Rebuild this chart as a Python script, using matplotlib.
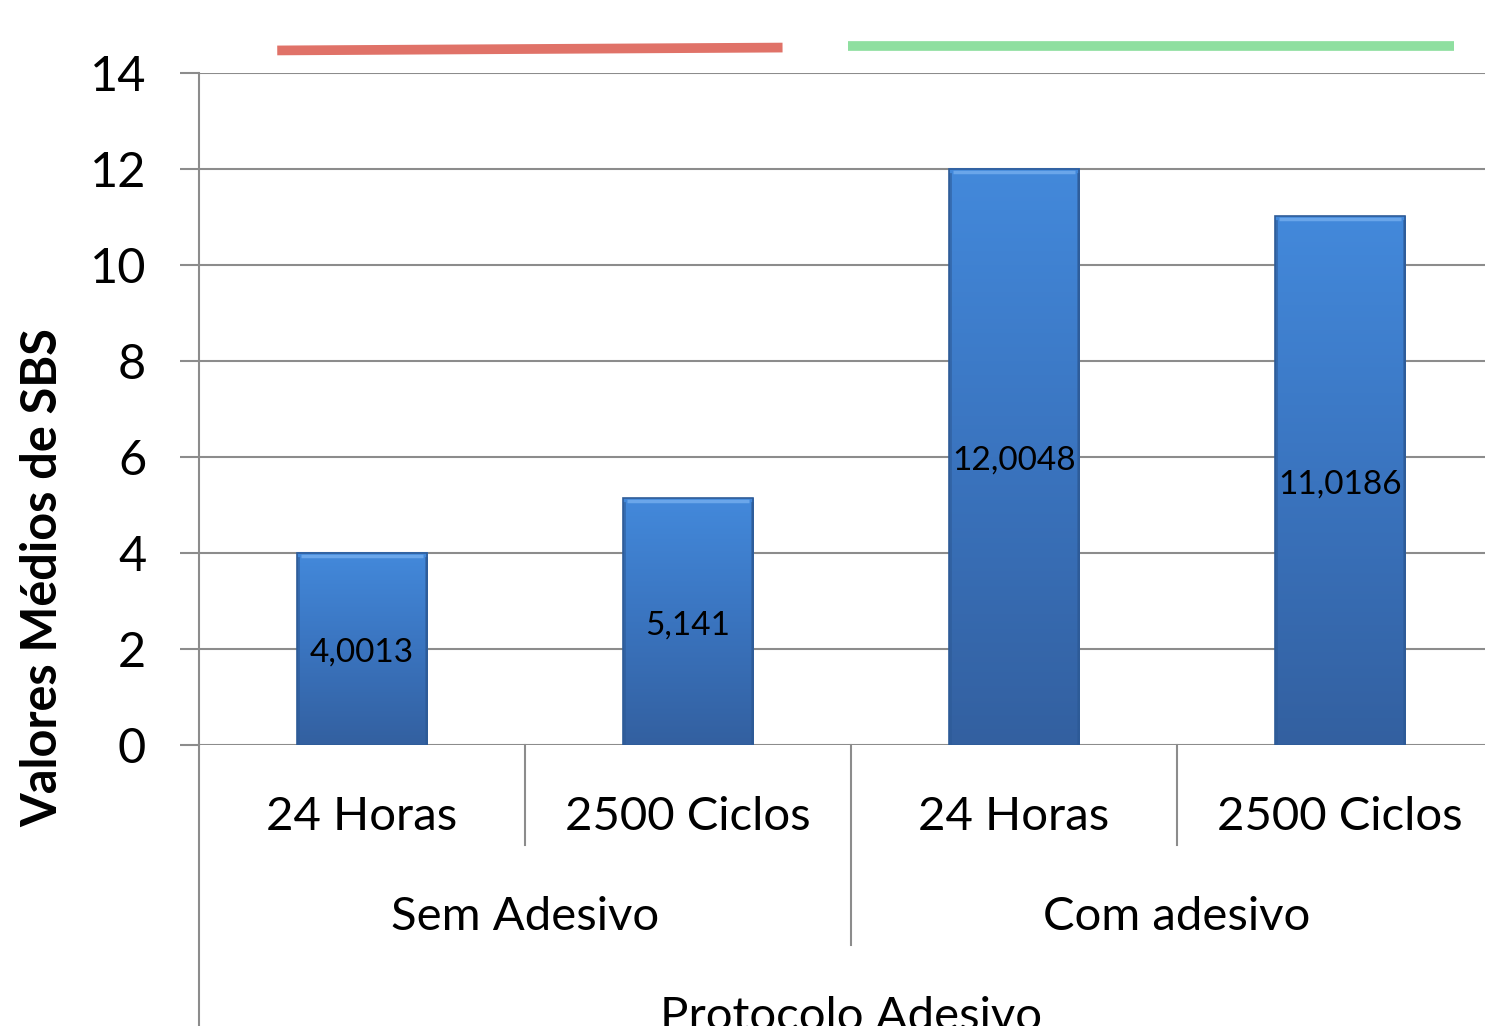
import numpy as np
import matplotlib
matplotlib.use('Agg')
import matplotlib.pyplot as plt
from matplotlib.colors import LinearSegmentedColormap
import matplotlib.transforms as mtransforms

plt.rcParams['font.family'] = ['Lato', 'DejaVu Sans']

# data
categories = ['24 Horas', '2500 Ciclos', '24 Horas', '2500 Ciclos']
groups = ['Sem Adesivo', 'Com adesivo']
values = [4.0013, 5.141, 12.0048, 11.0186]
value_labels = ['4,0013', '5,141', '12,0048', '11,0186']
yticks = [0, 2, 4, 6, 8, 10, 12, 14]

grey = '#8c8c8c'

fig = plt.figure(figsize=(14.85, 10.26), dpi=100)
ax = fig.add_axes([199 / 1485, 1 - 745 / 1026, 1304 / 1485, 672 / 1026])

x = np.arange(len(categories))
bars = ax.bar(x, values, width=0.4, color='none', edgecolor='#2f5c98', linewidth=1.2, zorder=3)

# vertical gradient inside each bar
cmap = LinearSegmentedColormap.from_list('blu', ['#3360a0', '#3a74bf', '#4389db'])
grad = np.linspace(0, 1, 256).reshape(-1, 1)
for b in bars:
    x0, w, h = b.get_x(), b.get_width(), b.get_height()
    ax.imshow(grad, cmap=cmap, origin='lower', aspect='auto',
              extent=[x0, x0 + w, 0, h], zorder=2)
    # light top bevel, darker sides
    ax.plot([x0 + w * 0.03, x0 + w * 0.97], [h - 0.06, h - 0.06], color='#6aa6ea',
            lw=2.5, zorder=3, solid_capstyle='butt')
    for xs in (x0 + w * 0.012, x0 + w * 0.988):
        ax.plot([xs, xs], [0, h - 0.1], color='#2d5a96', lw=2, alpha=0.6, zorder=3)

for b, lab in zip(bars, value_labels):
    ax.text(b.get_x() + b.get_width() / 2, b.get_height() / 2 - 0.08, lab,
            ha='center', va='center', fontsize=24, color='black', zorder=4)

ax.set_xlim(-0.5, len(categories) - 0.5)
ax.set_ylim(0, 14)
ax.set_yticks(yticks)
ax.set_yticklabels([str(t) for t in yticks], fontsize=35)
ax.tick_params(axis='y', length=14, width=1.5, color=grey, pad=24)
ax.set_xticks([])
ax.yaxis.grid(True, color=grey, linewidth=1.5, zorder=0)
ax.set_axisbelow(True)
for s in ['top', 'right', 'bottom']:
    ax.spines[s].set_visible(False)
ax.spines['left'].set_color(grey)
ax.spines['left'].set_linewidth(1.5)

# category axis: labels and separators
trans = mtransforms.blended_transform_factory(ax.transData, ax.transAxes)
for xi, c in zip(x, categories):
    ax.text(xi, -0.107, c, transform=trans, ha='center', va='center', fontsize=34)
for sep in [0.5, 2.5]:
    ax.plot([sep, sep], [0, -0.149], transform=trans, color=grey, lw=1.5, clip_on=False)
ax.plot([1.5, 1.5], [0, -0.298], transform=trans, color=grey, lw=1.5, clip_on=False)
ax.plot([-0.5, -0.5], [0, -0.45], transform=trans, color=grey, lw=1.5, clip_on=False)
for gi, g in enumerate(groups):
    ax.text(gi * 2 + 0.5, -0.256, g, transform=trans, ha='center', va='center', fontsize=34)
ax.text(1.5, -0.405, 'Protocolo Adesivo', transform=trans, ha='center', va='center', fontsize=34)

# y label
fig.text(43 / 1485, 1 - 578 / 1026, 'Valores Médios de SBS', rotation=90,
         ha='center', va='center', fontsize=35, fontweight='bold')

# group marker lines above the plot
ax.plot([-0.26, 1.29], [14.47, 14.53], color='#e07268', lw=7, clip_on=False,
        solid_capstyle='butt')
ax.plot([1.49, 3.35], [14.56, 14.56], color='#8fdfa0', lw=7, clip_on=False,
        solid_capstyle='butt')

fig.savefig('out.png', dpi=100)
